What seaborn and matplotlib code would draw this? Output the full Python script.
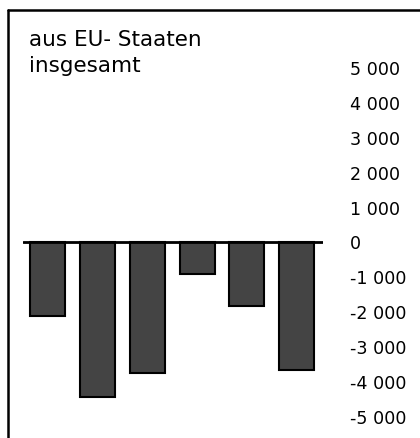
import matplotlib
matplotlib.use("Agg")
import matplotlib.pyplot as plt
import seaborn as sns
import pandas as pd
from matplotlib.lines import Line2D

sns.set_style("white")
plt.rcParams['font.family'] = ['DejaVu Sans']
plt.rcParams['text.color'] = 'black'
plt.rcParams['ytick.color'] = 'black'

categories = ["1", "2", "3", "4", "5", "6"]
values = [-2130, -4450, -3770, -920, -1840, -3670]
tick_values = [5000, 4000, 3000, 2000, 1000, 0, -1000, -2000, -3000, -4000, -5000]
tick_labels = ["5 000", "4 000", "3 000", "2 000", "1 000", "0",
               "-1 000", "-2 000", "-3 000", "-4 000", "-5 000"]
title_lines = ["aus EU- Staaten", "insgesamt"]

df = pd.DataFrame({"cat": categories, "val": values})

fig = plt.figure(figsize=(4.2, 4.39), dpi=100)
ax = fig.add_axes([23/420, 22/439, 300/420, 349/439])

sns.barplot(data=df, x="cat", y="val", color="#444444", width=0.7,
            edgecolor="black", linewidth=1.5, saturation=1, ax=ax)

ax.axhline(0, color="black", linewidth=2, zorder=5)
ax.set_xlim(-0.5, 5.53)
ax.set_ylim(-5000, 5000)
ax.set_yticks(tick_values)
ax.set_yticklabels(tick_labels, fontsize=12.6, color="black")
ax.yaxis.tick_right()
ax.tick_params(axis="y", length=0, pad=19.5)
ax.set_xticks([])
ax.set_xlabel("")
ax.set_ylabel("")
for s in ax.spines.values():
    s.set_visible(False)
ax.patch.set_alpha(0)

fig.text(29/420, 1 - 46.5/439, title_lines[0], fontsize=15.5, ha="left",
         va="baseline", color="black")
fig.text(29/420, 1 - 72.5/439, title_lines[1], fontsize=15.5, ha="left",
         va="baseline", color="black")

# frame lines (top and left)
fig.add_artist(Line2D([8/420, 1], [1 - 11/439, 1 - 11/439], color="black",
                      linewidth=1.8, transform=fig.transFigure))
fig.add_artist(Line2D([8/420, 8/420], [0, 1 - 11/439], color="black",
                      linewidth=1.8, transform=fig.transFigure))

fig.savefig("out.png", dpi=100)
